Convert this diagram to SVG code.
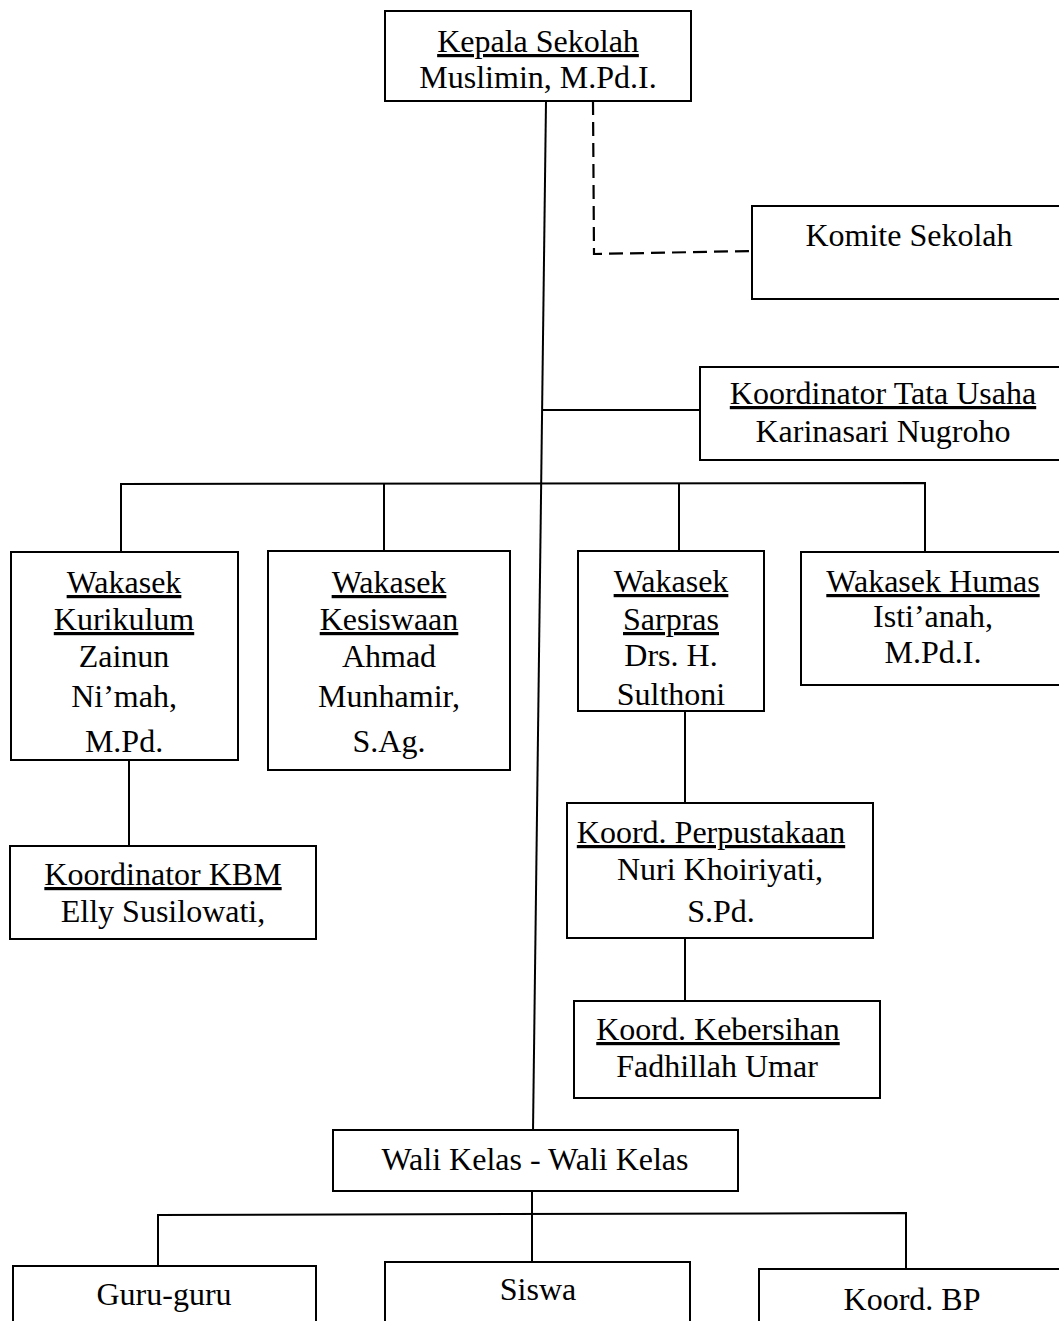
<svg xmlns="http://www.w3.org/2000/svg" width="1059" height="1321" viewBox="0 0 1059 1321">
<style>
.box{fill:#fff;stroke:#000;stroke-width:2}
.ln{fill:none;stroke:#000;stroke-width:2}
.dash{fill:none;stroke:#000;stroke-width:2.2;stroke-dasharray:14,7}
text{font-family:"Liberation Serif","Times New Roman",serif;font-size:32px;fill:#000;text-anchor:middle}
.u{text-decoration:underline}
</style>
<rect width="1059" height="1321" fill="#fff"/>
<g id="connectors">
<path class="ln" d="M546,101 L533,1131"/>
<path class="dash" d="M593,101 L594,254 L752,251"/>
<path class="ln" d="M542,410 L700,410"/>
<path class="ln" d="M121,551 L121,484 L925,483 L925,551"/>
<path class="ln" d="M384,484 L384,551"/>
<path class="ln" d="M679,484 L679,551"/>
<path class="ln" d="M129,760 L129,846"/>
<path class="ln" d="M685,711 L685,803"/>
<path class="ln" d="M685,938 L685,1001"/>
<path class="ln" d="M532,1191 L532,1262"/>
<path class="ln" d="M158,1267 L158,1215 L906,1213 L906,1269"/>
</g>
<g id="kepala"><rect class="box" x="385" y="11" width="306" height="90"/>
<text x="538" y="52" class="u">Kepala Sekolah</text><text x="538" y="88">Muslimin, M.Pd.I.</text></g>
<g id="komite"><rect class="box" x="752" y="206" width="310" height="93"/>
<text x="909" y="246">Komite Sekolah</text></g>
<g id="tatausaha"><rect class="box" x="700" y="367" width="362" height="93"/>
<text x="883" y="404" class="u">Koordinator Tata Usaha</text><text x="883" y="442">Karinasari Nugroho</text></g>
<g id="kurikulum"><rect class="box" x="11" y="552" width="227" height="208"/>
<text x="124" y="593" class="u">Wakasek</text><text x="124" y="630" class="u">Kurikulum</text>
<text x="124" y="667">Zainun</text><text x="124" y="707">Ni’mah,</text><text x="124" y="752">M.Pd.</text></g>
<g id="kesiswaan"><rect class="box" x="268" y="551" width="242" height="219"/>
<text x="389" y="593" class="u">Wakasek</text><text x="389" y="630" class="u">Kesiswaan</text>
<text x="389" y="667">Ahmad</text><text x="389" y="707">Munhamir,</text><text x="389" y="752">S.Ag.</text></g>
<g id="sarpras"><rect class="box" x="578" y="551" width="186" height="160"/>
<text x="671" y="592" class="u">Wakasek</text><text x="671" y="630" class="u">Sarpras</text>
<text x="671" y="666">Drs. H.</text><text x="671" y="705">Sulthoni</text></g>
<g id="humas"><rect class="box" x="801" y="552" width="261" height="133"/>
<text x="933" y="592" class="u">Wakasek Humas</text><text x="933" y="627">Isti’anah,</text><text x="933" y="663">M.Pd.I.</text></g>
<g id="kbm"><rect class="box" x="10" y="846" width="306" height="93"/>
<text x="163" y="885" class="u">Koordinator KBM</text><text x="163" y="922">Elly Susilowati,</text></g>
<g id="perpustakaan"><rect class="box" x="567" y="803" width="306" height="135"/>
<text x="711" y="843" class="u">Koord. Perpustakaan</text><text x="720" y="880">Nuri Khoiriyati,</text><text x="721" y="922">S.Pd.</text></g>
<g id="kebersihan"><rect class="box" x="574" y="1001" width="306" height="97"/>
<text x="718" y="1040" class="u">Koord. Kebersihan</text><text x="717" y="1077">Fadhillah Umar</text></g>
<g id="walikelas"><rect class="box" x="333" y="1130" width="405" height="61"/>
<text x="535" y="1170">Wali Kelas - Wali Kelas</text></g>
<g id="guru"><rect class="box" x="13" y="1266" width="303" height="70"/>
<text x="164" y="1305">Guru-guru</text></g>
<g id="siswa"><rect class="box" x="385" y="1262" width="305" height="70"/>
<text x="538" y="1300">Siswa</text></g>
<g id="bp"><rect class="box" x="759" y="1269" width="303" height="70"/>
<text x="912" y="1310">Koord. BP</text></g>
</svg>
